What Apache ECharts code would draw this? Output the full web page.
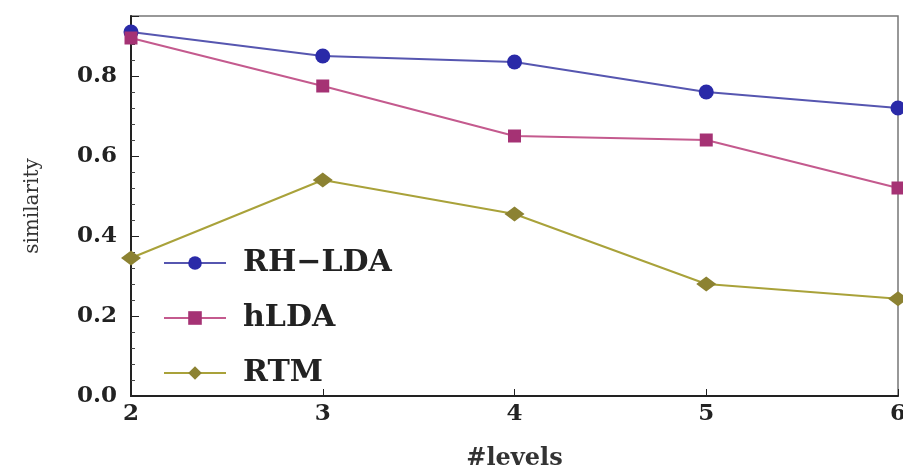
<!DOCTYPE html>
<html>
<head>
<meta charset="utf-8">
<script src="https://cdn.jsdelivr.net/npm/echarts@6.0.0/dist/echarts.min.js"></script>
<style>
  html, body { margin: 0; padding: 0; background: #fff; }
  #root { width: 903px; height: 466px; }
</style>
</head>
<body>
<div id="root"></div>
<script>
  const levels = [2, 3, 4, 5, 6]
  const rhLda = [0.91, 0.85, 0.835, 0.76, 0.72]
  const hLda = [0.895, 0.775, 0.65, 0.64, 0.52]
  const rtm = [0.345, 0.54, 0.455, 0.28, 0.243]
  const seriesNames = ['RH\u2212LDA', 'hLDA', 'RTM']

  const font = 'DejaVu Serif'
  const toPairs = vals => levels.map((lv, i) => [lv, vals[i]])

  const makeSeries = (name, vals, color, markColor, symbol, size) => ({
    name,
    type: 'line',
    data: toPairs(vals),
    symbol,
    symbolSize: size,
    lineStyle: { color, width: 2 },
    itemStyle: { color: markColor },
    clip: false,
    z: 3
  })

  const chart = echarts.init(document.getElementById('root'))
  chart.setOption({
    animation: false,
    backgroundColor: '#fff',
    grid: {
      left: 131, right: 5, top: 16, bottom: 70,
      outerBoundsMode: 'none',
      show: true, borderColor: '#777', borderWidth: 1.5
    },
    legend: {
      orient: 'vertical',
      left: 158,
      top: 243,
      itemWidth: 62,
      itemHeight: 17,
      itemGap: 25,
      textStyle: { fontFamily: font, fontSize: 30, fontWeight: 'bold', color: '#222', padding: [0, 0, 0, 12] },
      data: seriesNames
    },
    xAxis: {
      type: 'value',
      min: 2, max: 6, interval: 1,
      name: '#levels',
      nameLocation: 'middle',
      nameGap: 51,
      nameTextStyle: { fontFamily: font, fontSize: 24, fontWeight: 'bold', color: '#333' },
      axisLine: { lineStyle: { color: '#222', width: 2 } },
      axisTick: { inside: true, length: 7, lineStyle: { color: '#222' } },
      axisLabel: { fontFamily: font, fontSize: 23, fontWeight: 'bold', color: '#222', margin: 7 },
      splitLine: { show: false }
    },
    yAxis: {
      type: 'value',
      min: 0, max: 0.95, interval: 0.2,
      name: 'similarity',
      nameLocation: 'middle',
      nameGap: 88,
      nameTextStyle: { fontFamily: font, fontSize: 20, color: '#333' },
      axisLine: { lineStyle: { color: '#222', width: 2 } },
      axisTick: { inside: true, length: 8, lineStyle: { color: '#222' } },
      minorTick: { show: true, splitNumber: 5, length: 4, lineStyle: { color: '#444' } },
      axisLabel: {
        fontFamily: font, fontSize: 23, fontWeight: 'bold', color: '#222', margin: 14,
        showMaxLabel: false,
        formatter: v => v.toFixed(1)
      },
      splitLine: { show: false }
    },
    series: [
      makeSeries(seriesNames[0], rhLda, '#5656b0', '#2a2aa8', 'circle', 15),
      makeSeries(seriesNames[1], hLda, '#c45a8e', '#a53274', 'rect', 13),
      makeSeries(seriesNames[2], rtm, '#a9a23a', '#8c8232', 'diamond', [20, 15])
    ]
  })
</script>
</body>
</html>
